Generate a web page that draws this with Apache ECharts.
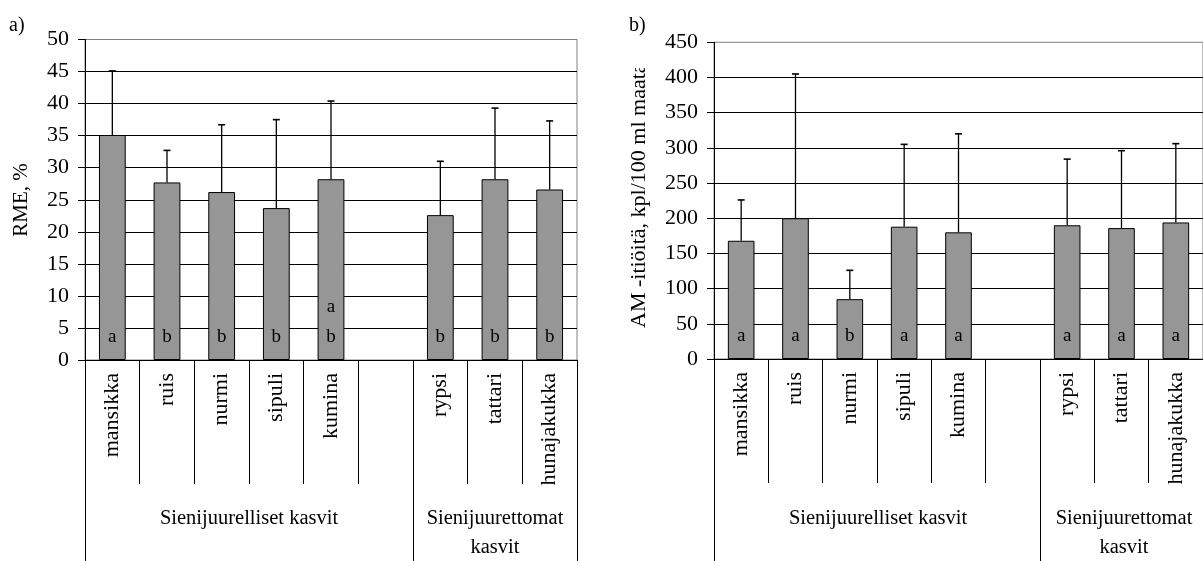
<!DOCTYPE html>
<html>
<head>
<meta charset="utf-8">
<script src="https://cdn.jsdelivr.net/npm/echarts@6/dist/echarts.min.js"></script>
<style>
  html, body { margin: 0; padding: 0; background: #fff; overflow: hidden; }
  #chart { width: 1203px; height: 561px; }
</style>
</head>
<body>
<div id="chart"></div>
<script>
// Crops; the empty slot separates the two plant groups
const categories = ['mansikka', 'ruis', 'nurmi', 'sipuli', 'kumina', '', 'rypsi', 'tattari', 'hunajakukka'];
const groupOf = [0, 0, 0, 0, 0, 0, 1, 1, 1];
const groupLabels = ['Sienijuurelliset kasvit', 'Sienijuurettomat\nkasvit'];

// a) RME, % : mean and upper end of the error bar
const rmeMean = [35.1, 27.7, 26.2, 23.7, 28.2, null, 22.6, 28.2, 26.6];
const rmeUpper = [45.1, 32.7, 36.7, 37.5, 40.4, null, 31.0, 39.3, 37.3];
const rmeLetters = ['a', 'b', 'b', 'b', 'a\nb', '', 'b', 'b', 'b'];
const rmeAxis = { min: 0, max: 50, interval: 5 };

// b) AM spores per 100 ml soil
const sporeMean = [168, 200, 85, 188, 180, null, 190, 186, 194];
const sporeUpper = [226, 405, 126, 305, 320, null, 284, 296, 306];
const sporeLetters = ['a', 'a', 'b', 'a', 'a', '', 'a', 'a', 'a'];
const sporeAxis = { min: 0, max: 450, interval: 50 };

const FONT = "'Liberation Serif', 'Times New Roman', serif";

// Plot areas
const grids = [
  { left: 85, top: 39.5, width: 492, height: 320.5 },
  { left: 714, top: 42.3, width: 492, height: 316.7 }
];

function xAxes(gi) {
  return [
    {
      gridIndex: gi, type: 'category', position: 'bottom', data: categories, boundaryGap: true,
      axisLine: { show: true, lineStyle: { color: '#000', width: 1 } },
      axisTick: { show: true, interval: 0, alignWithLabel: false, length: 124, lineStyle: { color: '#000', width: 1 } },
      axisLabel: { interval: 0, rotate: 90, margin: 13, color: '#000', fontFamily: FONT, fontSize: 22 },
      splitLine: { show: false }
    },
    {
      // long dividers that separate the plant groups
      gridIndex: gi, type: 'category', position: 'bottom', data: categories, boundaryGap: true,
      axisLine: { show: false },
      axisTick: {
        show: true, alignWithLabel: false, length: 210,
        interval: function (i) { return i === 0 || groupOf[i] !== groupOf[i - 1]; },
        lineStyle: { color: '#000', width: 1 }
      },
      axisLabel: { show: false },
      splitLine: { show: false }
    }
  ];
}

function yAxis(gi, ax) {
  return {
    gridIndex: gi, type: 'value', min: ax.min, max: ax.max, interval: ax.interval,
    axisLine: { show: true, lineStyle: { color: '#000', width: 1 } },
    axisTick: { show: true, length: 7, lineStyle: { color: '#000', width: 1 } },
    axisLabel: { margin: 16, color: '#000', fontFamily: FONT, fontSize: 22 },
    splitLine: { show: true, showMinLine: false, showMaxLine: false, lineStyle: { color: '#000', width: 1 } }
  };
}

function barSeries(gi, values, letters) {
  return {
    type: 'bar', xAxisIndex: gi * 2, yAxisIndex: gi, data: values, barWidth: '49%',
    itemStyle: { color: '#969696', borderColor: '#000', borderWidth: 1 },
    label: {
      show: true, position: 'insideBottom', distance: 8,
      formatter: function (p) { return letters[p.dataIndex]; },
      color: '#000', fontFamily: FONT, fontSize: 19, lineHeight: 30
    },
    silent: true
  };
}

function errorSeries(gi, mean, upper) {
  const data = [];
  mean.forEach(function (m, i) { if (m != null) data.push([i, m, upper[i]]); });
  return {
    type: 'custom', xAxisIndex: gi * 2, yAxisIndex: gi, data: data, z: 5, silent: true,
    renderItem: function (params, api) {
      const x = api.value(0);
      const base = api.coord([x, api.value(1)]);
      const top = api.coord([x, api.value(2)]);
      const hw = 3.5;
      return {
        type: 'group',
        children: [
          { type: 'line', shape: { x1: base[0], y1: base[1], x2: top[0], y2: top[1] }, style: { stroke: '#000', lineWidth: 1.3 } },
          { type: 'line', shape: { x1: top[0] - hw, y1: top[1], x2: top[0] + hw, y2: top[1] }, style: { stroke: '#000', lineWidth: 1.6 } }
        ]
      };
    }
  };
}

// Group captions centred under their slots
function groupTexts(gi) {
  const g = grids[gi];
  const slot = g.width / categories.length;
  const out = [];
  groupLabels.forEach(function (label, k) {
    const idx = groupOf.map(function (v, i) { return v === k ? i : -1; }).filter(function (i) { return i >= 0; });
    const cx = g.left + slot * (idx[0] + idx[idx.length - 1] + 1) / 2;
    out.push({
      type: 'text', x: cx, y: 504.5, silent: true,
      style: { text: label, textAlign: 'center', textVerticalAlign: 'top', fontFamily: FONT, fontSize: 20.5, lineHeight: 29, fill: '#000' }
    });
  });
  return out;
}

const chart = echarts.init(document.getElementById('chart'), null, { renderer: 'canvas' });
chart.setOption({
  animation: false,
  backgroundColor: '#fff',
  grid: grids.map(function (g) {
    return Object.assign({ show: true, borderColor: '#808080', borderWidth: 1, backgroundColor: 'transparent', containLabel: false }, g);
  }),
  xAxis: xAxes(0).concat(xAxes(1)),
  yAxis: [yAxis(0, rmeAxis), yAxis(1, sporeAxis)],
  series: [
    barSeries(0, rmeMean, rmeLetters),
    errorSeries(0, rmeMean, rmeUpper),
    barSeries(1, sporeMean, sporeLetters),
    errorSeries(1, sporeMean, sporeUpper)
  ],
  graphic: [
    { type: 'text', x: 9, y: 26, silent: true, style: { text: 'a)', textVerticalAlign: 'middle', fontFamily: FONT, fontSize: 20, fill: '#000' } },
    { type: 'text', x: 629, y: 26, silent: true, style: { text: 'b)', textVerticalAlign: 'middle', fontFamily: FONT, fontSize: 20, fill: '#000' } },
    { type: 'text', x: 21, y: 200, rotation: Math.PI / 2, silent: true,
      style: { text: 'RME, %', textAlign: 'center', textVerticalAlign: 'middle', fontFamily: FONT, fontSize: 21, fill: '#000' } },
    // right axis title runs upward from the bottom of its box and is cut off at the box top
    { type: 'text', x: 639, y: 328, rotation: Math.PI / 2, silent: true, z: 10,
      style: { text: 'AM -itiöitä, kpl/100 ml maata', textAlign: 'left', textVerticalAlign: 'middle',
        fontFamily: FONT, fontSize: 22, fill: '#000' } },
    { type: 'rect', silent: true, z: 11, shape: { x: 624, y: 36, width: 32, height: 32 }, style: { fill: '#fff' } }
  ].concat(groupTexts(0), groupTexts(1))
});
</script>
</body>
</html>
